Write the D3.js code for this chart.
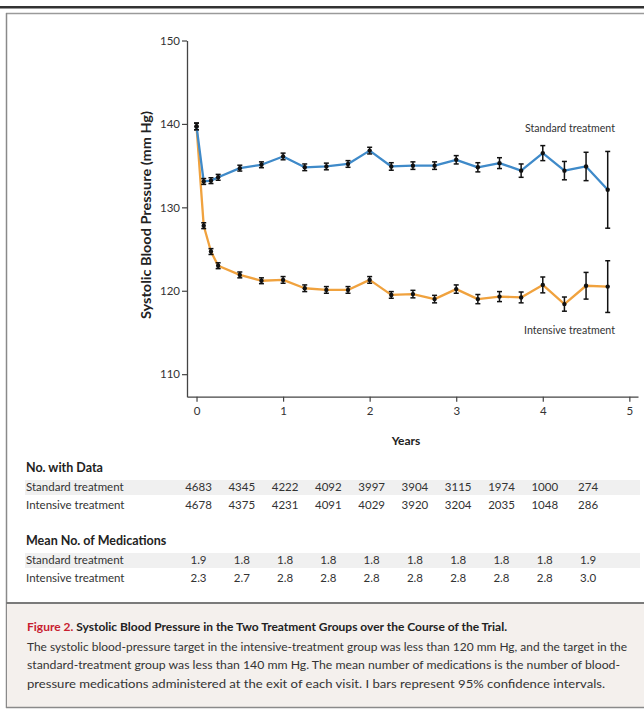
<!DOCTYPE html>
<html>
<head>
<meta charset="utf-8">
<script src="https://cdn.jsdelivr.net/npm/d3@7"></script>
<style>
  body { margin: 0; background: #fff; }
  svg { display: block; font-family: Lato, "Open Sans", sans-serif; }
</style>
</head>
<body>
<div id="chart"></div>
<script>
// visit times (years)
const visitYears = [0, 0.083, 0.167, 0.25, 0.5, 0.75, 1, 1.25, 1.5, 1.75, 2, 2.25, 2.5, 2.75, 3, 3.25, 3.5, 3.75, 4, 4.25, 4.5, 4.75];

const standardMean = [139.7, 133.1, 133.2, 133.6, 134.7, 135.1, 136.1, 134.8, 134.9, 135.2, 136.8, 134.9, 135.0, 135.0, 135.7, 134.8, 135.3, 134.4, 136.5, 134.4, 134.9, 132.1];
const standardCI = [0.4, 0.35, 0.35, 0.35, 0.35, 0.35, 0.4, 0.4, 0.4, 0.4, 0.4, 0.45, 0.45, 0.45, 0.5, 0.55, 0.65, 0.8, 0.9, 1.1, 1.7, 4.6];

const intensiveMean = [139.7, 127.8, 124.7, 123.0, 121.9, 121.2, 121.3, 120.3, 120.1, 120.1, 121.3, 119.5, 119.6, 119.0, 120.2, 119.0, 119.3, 119.2, 120.7, 118.4, 120.6, 120.5];
const intensiveCI = [0.4, 0.35, 0.35, 0.35, 0.35, 0.35, 0.4, 0.4, 0.4, 0.4, 0.4, 0.4, 0.45, 0.45, 0.5, 0.55, 0.6, 0.65, 0.95, 0.85, 1.6, 3.1];

const yTicks = [110, 120, 130, 140, 150];
const xTicks = [0, 1, 2, 3, 4, 5];

// table below the chart
const tableYears = [0, 0.5, 1, 1.5, 2, 2.5, 3, 3.5, 4, 4.5];
const nStandard = [4683, 4345, 4222, 4092, 3997, 3904, 3115, 1974, 1000, 274];
const nIntensive = [4678, 4375, 4231, 4091, 4029, 3920, 3204, 2035, 1048, 286];
const medsStandard = ["1.9", "1.8", "1.8", "1.8", "1.8", "1.8", "1.8", "1.8", "1.8", "1.9"];
const medsIntensive = ["2.3", "2.7", "2.8", "2.8", "2.8", "2.8", "2.8", "2.8", "2.8", "3.0"];

const captionLines = [
    "The systolic blood-pressure target in the intensive-treatment group was less than 120 mm Hg, and the target in the",
    "standard-treatment group was less than 140 mm Hg. The mean number of medications is the number of blood-",
    "pressure medications administered at the exit of each visit. I bars represent 95% confidence intervals."
];

const W = 644, H = 718;
const blue = "#3f8ac9", orange = "#f0a23e";

const svg = d3.select("#chart").append("svg")
    .attr("width", W)
    .attr("height", H);

// frame
svg.append("rect").attr("x", 0).attr("y", 6).attr("width", W).attr("height", 2.5).attr("fill", "#333");
svg.append("line").attr("x1", 6).attr("x2", W).attr("y1", 13.5).attr("y2", 13.5)
    .attr("stroke", "#9a9a9a").attr("stroke-width", 1.5);
svg.append("line").attr("x1", 6.5).attr("x2", 6.5).attr("y1", 13).attr("y2", 708)
    .attr("stroke", "#8a8a8a").attr("stroke-width", 1.5);

// caption box
svg.append("rect").attr("x", 7).attr("y", 603).attr("width", W - 7).attr("height", 104)
    .attr("fill", "#f4f0ed");
svg.append("line").attr("x1", 6).attr("x2", W).attr("y1", 603).attr("y2", 603)
    .attr("stroke", "#7a7a7a").attr("stroke-width", 2);
svg.append("line").attr("x1", 6).attr("x2", W).attr("y1", 707.5).attr("y2", 707.5)
    .attr("stroke", "#8a8a8a").attr("stroke-width", 1.5);

const x = d3.scaleLinear().domain([-0.11, 5.1]).range([187, 638]);
const y = d3.scaleLinear().domain([107.3, 150]).range([396.7, 40.5]);

// axes
const yAxis = svg.append("g")
    .attr("transform", "translate(187,0)")
    .call(d3.axisLeft(y).tickValues(yTicks).tickFormat(d3.format("d"))
        .tickSize(5).tickSizeOuter(0).tickPadding(2));
const xAxis = svg.append("g")
    .attr("transform", "translate(0,396.7)")
    .call(d3.axisBottom(x).tickValues(xTicks).tickFormat(d3.format("d"))
        .tickSize(5).tickSizeOuter(0).tickPadding(5));

[yAxis, xAxis].forEach(g => {
    g.select(".domain").attr("stroke", "#444").attr("stroke-width", 1.3);
    g.selectAll(".tick line").attr("stroke", "#444").attr("stroke-width", 1.2);
    g.selectAll(".tick text")
        .attr("fill", "#333")
        .style("font-size", "11.5px")
        .style("font-family", "Lato, sans-serif");
});

svg.append("text")
    .attr("transform", "translate(151,215) rotate(-90)")
    .attr("text-anchor", "middle")
    .style("font-size", "13px")
    .style("font-weight", "bold")
    .attr("fill", "#222")
    .attr("textLength", 208)
    .attr("lengthAdjust", "spacingAndGlyphs")
    .text("Systolic Blood Pressure (mm Hg)");

svg.append("text")
    .attr("x", 406).attr("y", 445)
    .attr("text-anchor", "middle")
    .style("font-size", "12px")
    .style("font-weight", "bold")
    .attr("fill", "#222")
    .text("Years");

// series
const series = [
    {name: "Intensive treatment", mean: intensiveMean, ci: intensiveCI, color: orange},
    {name: "Standard treatment", mean: standardMean, ci: standardCI, color: blue}
];

const line = d3.line()
    .x(d => x(d.t))
    .y(d => y(d.v));

series.forEach(s => {
    const pts = visitYears.map((t, i) => ({t: t, v: s.mean[i], e: s.ci[i]}));
    svg.append("path")
        .datum(pts)
        .attr("fill", "none")
        .attr("stroke", s.color)
        .attr("stroke-width", 2.3)
        .attr("stroke-linejoin", "round")
        .attr("d", line);

    const bars = svg.append("g").attr("stroke", "#111");
    pts.forEach(p => {
        const cx = x(p.t);
        const y0 = y(p.v + p.e), y1 = y(p.v - p.e);
        bars.append("line").attr("x1", cx).attr("x2", cx).attr("y1", y0).attr("y2", y1)
            .attr("stroke-width", 1.5);
        bars.append("line").attr("x1", cx - 2.5).attr("x2", cx + 2.5).attr("y1", y0).attr("y2", y0)
            .attr("stroke-width", 1.5);
        bars.append("line").attr("x1", cx - 2.5).attr("x2", cx + 2.5).attr("y1", y1).attr("y2", y1)
            .attr("stroke-width", 1.5);
        bars.append("circle").attr("cx", cx).attr("cy", y(p.v)).attr("r", 2.2)
            .attr("fill", "#111").attr("stroke", "none");
    });
});

svg.append("text")
    .attr("x", 525).attr("y", 132)
    .style("font-size", "11px")
    .attr("fill", "#333")
    .attr("textLength", 90)
    .attr("lengthAdjust", "spacingAndGlyphs")
    .text("Standard treatment");
svg.append("text")
    .attr("x", 524).attr("y", 334)
    .style("font-size", "11px")
    .attr("fill", "#333")
    .attr("textLength", 91)
    .attr("lengthAdjust", "spacingAndGlyphs")
    .text("Intensive treatment");

// table
const tableBlocks = [
    {title: "No. with Data", titleY: 472, rows: [nStandard, nIntensive]},
    {title: "Mean No. of Medications", titleY: 545, rows: [medsStandard, medsIntensive]}
];
const rowNames = ["Standard treatment", "Intensive treatment"];

tableBlocks.forEach(b => {
    svg.append("rect")
        .attr("x", 25).attr("y", b.titleY + 8)
        .attr("width", 615).attr("height", 15)
        .attr("fill", "#f0f0f0");
    svg.append("text")
        .attr("x", 26).attr("y", b.titleY)
        .style("font-size", "12.5px")
        .style("font-weight", "bold")
        .attr("fill", "#222")
        .text(b.title);
    b.rows.forEach((vals, r) => {
        const ry = b.titleY + 19 + r * 18;
        svg.append("text")
            .attr("x", 26).attr("y", ry)
            .style("font-size", "11.5px")
            .attr("fill", "#333")
            .text(rowNames[r]);
        svg.append("g").selectAll("text")
            .data(vals)
            .join("text")
            .attr("x", (d, i) => x(tableYears[i]) + 2)
            .attr("y", ry)
            .attr("text-anchor", "middle")
            .style("font-size", "11.5px")
            .attr("fill", "#333")
            .text(d => d);
    });
});

// caption
const title = svg.append("text")
    .attr("x", 27).attr("y", 631)
    .style("font-size", "12px")
    .style("font-weight", "bold")
    .attr("textLength", 480)
    .attr("lengthAdjust", "spacingAndGlyphs");
title.append("tspan").attr("fill", "#c8202f").text("Figure 2. ");
title.append("tspan").attr("fill", "#222")
    .text("Systolic Blood Pressure in the Two Treatment Groups over the Course of the Trial.");

const lineEnds = [627, 620, 605];
captionLines.forEach((t, i) => {
    svg.append("text")
        .attr("x", 27).attr("y", 651 + i * 18.3)
        .style("font-size", "11.5px")
        .attr("fill", "#333")
        .attr("textLength", lineEnds[i] - 27)
        .attr("lengthAdjust", "spacingAndGlyphs")
        .text(t);
});
</script>
</body>
</html>
